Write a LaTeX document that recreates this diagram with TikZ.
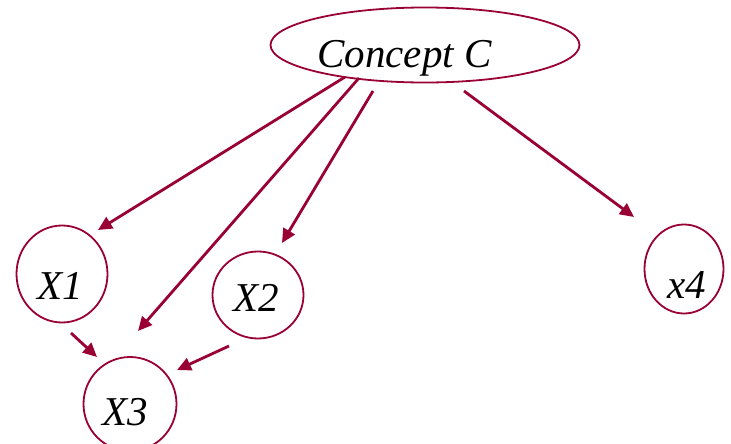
\documentclass[tikz,border=0pt]{standalone}
\usepackage{fontspec}
\setmainfont{Liberation Serif}
\usetikzlibrary{shapes.geometric,arrows.meta}
\definecolor{wine}{RGB}{153,0,51}
\begin{document}
\begin{tikzpicture}[x=1pt,y=-1pt,
  vring/.style={draw=wine,line width=1.8pt,ellipse,inner sep=0pt,outer sep=0pt},
  lbl/.style={anchor=base,inner sep=0pt,font=\fontsize{41}{47}\selectfont\itshape},
  link/.style={draw=wine,line width=2.8pt,-{Triangle[length=14pt,width=13pt]}}]
\useasboundingbox (0,0) rectangle (731,444);
\node[vring,minimum width=309pt,minimum height=75pt] (C) at (425,45) {};
\node[lbl] (Ct) at (404.5,68) {Concept C};
\node[vring,minimum width=91pt,minimum height=97pt] (X1) at (62,274) {};
\node[lbl] (X1t) at (60,299) {X1};
\node[vring,minimum width=91pt,minimum height=87pt] (X2) at (258,295) {};
\node[lbl] (X2t) at (256.5,311) {X2};
\node[vring,minimum width=93pt,minimum height=94pt] (X3) at (130,404) {};
\node[lbl] (X3t) at (125.5,425) {X3};
\node[vring,minimum width=79pt,minimum height=89pt] (X4) at (684,269) {};
\node[lbl] (X4t) at (686.5,298) {x4};
% connector end points
\coordinate (c1) at (345,77);
\coordinate (t1) at (98,230);
\coordinate (c2) at (359,78);
\coordinate (t2) at (138,331);
\coordinate (c3) at (373,91);
\coordinate (t3) at (282,243);
\coordinate (c4) at (464,91);
\coordinate (t4) at (634,217);
\coordinate (a5) at (71,333);
\coordinate (t5) at (97,357);
\coordinate (a6) at (229,346);
\coordinate (t6) at (177,370);
\draw[link] (c1) -- (t1);
\draw[link] (c2) -- (t2);
\draw[link] (c3) -- (t3);
\draw[link] (c4) -- (t4);
\draw[link] (a5) -- (t5);
\draw[link] (a6) -- (t6);
\end{tikzpicture}
\end{document}
